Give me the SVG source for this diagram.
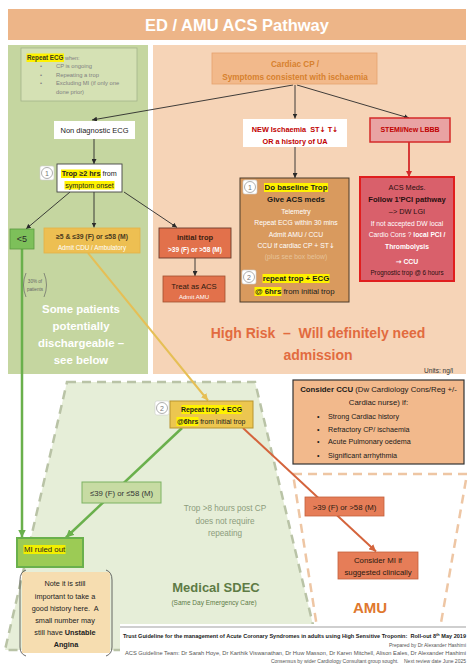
<svg xmlns="http://www.w3.org/2000/svg" width="474" height="669" viewBox="0 0 474 669">
<defs>
<style>
text{font-family:"Liberation Sans",Arial,sans-serif;}
.b{font-weight:bold}
.c{text-anchor:middle}
.e{text-anchor:end}
.hl{fill:#FFF200}
.nb{fill:#fff;stroke:#cfcfcf;stroke-width:0.6}
.nc{fill:#fff;stroke:#9a9a9a;stroke-width:0.8}
.nt{font-size:7px;fill:#777;text-anchor:middle}
.k{stroke:#2a2a2a;stroke-width:0.9;fill:none}
.wt{fill:#ffffff}
.ar{font-family:"DejaVu Sans",sans-serif}
</style>
<marker id="ak" viewBox="0 0 6 6" refX="6" refY="3" markerWidth="5" markerHeight="5" markerUnits="userSpaceOnUse" orient="auto"><path d="M0,0L6,3L0,6z" fill="#2a2a2a"/></marker>
<marker id="ar" viewBox="0 0 6 6" refX="6" refY="3" markerWidth="6" markerHeight="6" markerUnits="userSpaceOnUse" orient="auto"><path d="M0,0L6,3L0,6z" fill="#D42A2A"/></marker>
<marker id="ag" viewBox="0 0 6 6" refX="6" refY="3" markerWidth="8" markerHeight="8" markerUnits="userSpaceOnUse" orient="auto"><path d="M0,0L6,3L0,6z" fill="#6AB04C"/></marker>
<marker id="ay" viewBox="0 0 6 6" refX="6" refY="3" markerWidth="7" markerHeight="7" markerUnits="userSpaceOnUse" orient="auto"><path d="M0,0L6,3L0,6z" fill="#E6BF55"/></marker>
<marker id="ao" viewBox="0 0 6 6" refX="6" refY="3" markerWidth="7" markerHeight="7" markerUnits="userSpaceOnUse" orient="auto"><path d="M0,0L6,3L0,6z" fill="#D4643C"/></marker>
</defs>

<rect x="0" y="0" width="474" height="669" fill="#ffffff"/>

<!-- background regions -->
<g id="header">
<rect x="8" y="9" width="458" height="31" fill="#EDB588"/>
<text x="237" y="31" class="b c" font-size="16.5" fill="#ffffff">ED / AMU ACS Pathway</text>
</g>
<g id="low-risk-panel">
<rect x="8" y="45" width="140" height="329" fill="#C5D6A0"/>
<text class="b c wt" font-size="11.4"><tspan x="81" y="313">Some patients</tspan><tspan x="81" y="330">potentially</tspan><tspan x="81" y="347">dischargeable –</tspan><tspan x="81" y="364">see below</tspan></text>
</g>
<g id="high-risk-panel">
<rect x="153" y="45" width="313" height="329" fill="#F6D4B7"/>
<text class="b c" font-size="14" fill="#E26B3F"><tspan x="318" y="338">High Risk&#160; –&#160; Will definitely need</tspan><tspan x="318" y="360">admission</tspan></text>
<text x="453" y="373" class="e" font-size="6.5" fill="#333">Units: ng/l</text>
</g>
<g id="sdec-area">
<polygon points="67,382 255,382 319,650 5,650" fill="#E6EED8" stroke="#B9C3A6" stroke-width="2.5" stroke-dasharray="9,6"/>
<text x="216" y="592" class="b c" font-size="13" fill="#5E7B45">Medical SDEC</text>
<text x="214" y="604.5" class="c" font-size="6.5" fill="#5E7B45">(Same Day Emergency Care)</text>
<text class="c" font-size="8.2" fill="#8C9C7C"><tspan x="225" y="511">Trop &gt;8 hours post CP</tspan><tspan x="225" y="523.5">does not require</tspan><tspan x="225" y="536">repeating</tspan></text>
</g>
<g id="amu-area">
<polygon points="293,474 467,474 438,640 319,640" fill="#ffffff" stroke="#EEC6A4" stroke-width="2.5" stroke-dasharray="9,6"/>
<text x="370" y="613" class="b c" font-size="15" fill="#E0782E">AMU</text>
</g>

<!-- connectors -->
<g id="connectors">
<line x1="293" y1="85" x2="92" y2="120" class="k" marker-end="url(#ak)"/>
<line x1="295" y1="85" x2="295" y2="118.5" class="k" marker-end="url(#ak)"/>
<line x1="297" y1="85" x2="409" y2="118" class="k" marker-end="url(#ak)"/>
<line x1="94" y1="139" x2="94" y2="164" class="k" marker-end="url(#ak)"/>
<line x1="70" y1="192" x2="26" y2="229" class="k" marker-end="url(#ak)"/>
<line x1="94" y1="192" x2="94" y2="227.5" class="k" marker-end="url(#ak)"/>
<line x1="124" y1="192" x2="177" y2="227.5" class="k" marker-end="url(#ak)"/>
<line x1="195" y1="258" x2="195" y2="276" class="k" marker-end="url(#ak)"/>
<line x1="295" y1="147" x2="295" y2="178" class="k" marker-end="url(#ak)"/>
<line x1="409" y1="142" x2="409" y2="177" stroke="#D42A2A" stroke-width="1.8" marker-end="url(#ar)"/>
<line x1="22" y1="249" x2="22" y2="537.5" stroke="#6AB04C" stroke-width="2.5" marker-end="url(#ag)"/>
<line x1="88" y1="253" x2="208" y2="400.5" stroke="#E6BF55" stroke-width="2" marker-end="url(#ay)"/>
<line x1="182" y1="428" x2="66" y2="537.5" stroke="#6AB04C" stroke-width="2.5" marker-end="url(#ag)"/>
<line x1="243" y1="428" x2="376" y2="551.5" stroke="#D4643C" stroke-width="2" marker-end="url(#ao)"/>
</g>

<!-- nodes -->
<g id="repeat-ecg-note">
<rect x="21" y="48" width="116" height="53" fill="#D5E1B4" stroke="#A3B38A" stroke-width="0.8"/>
<rect x="26.5" y="53.5" width="37.5" height="8.5" class="hl"/>
<text x="27" y="60" font-size="6.3"><tspan class="b" fill="#3a3a1a">Repeat ECG</tspan><tspan font-size="5.5" fill="#808080"> when:</tspan></text>
<g font-size="5.8" fill="#808080">
<text x="40" y="68">•</text><text x="56" y="68">CP is ongoing</text>
<text x="40" y="76.5">•</text><text x="56" y="76.5">Repeating a trop</text>
<text x="40" y="85">•</text><text x="56" y="85">Excluding MI (if only one</text>
<text x="56" y="93.5">done prior)</text>
</g>
</g>

<g id="cardiac-cp">
<rect x="212" y="53" width="165" height="31" fill="#F2B98B" stroke="#E6A26E" stroke-width="0.8"/>
<text class="b c" font-size="8.2" fill="#D7812E"><tspan x="295" y="67">Cardiac CP /</tspan><tspan x="295" y="79.5">Symptoms consistent with ischaemia</tspan></text>
</g>

<g id="non-diagnostic-ecg">
<rect x="54" y="121" width="81" height="18" fill="#ffffff"/>
<text x="94.5" y="133" class="c" font-size="7.5" fill="#222">Non diagnostic ECG</text>
</g>

<g id="new-ischaemia">
<rect x="243" y="119" width="104" height="28" fill="#ffffff"/>
<text class="b c" font-size="7.3" fill="#C00000"><tspan x="295" y="131.5">NEW Ischaemia&#160; ST<tspan class="ar">↓</tspan> T<tspan class="ar">↓</tspan></tspan><tspan x="295" y="143.5">OR a history of UA</tspan></text>
</g>

<g id="stemi">
<rect x="370" y="118" width="80" height="24" fill="#E9A3A3" stroke="#D42A2A" stroke-width="1.5"/>
<text x="410" y="131.5" class="b c" font-size="7" fill="#C00000">STEMI/New LBBB</text>
</g>

<g id="trop-2hrs">
<rect x="57" y="164" width="65" height="28" fill="#ffffff" stroke="#444" stroke-width="0.9"/>
<rect x="61" y="169.5" width="40" height="8.5" class="hl"/>
<rect x="64.5" y="181" width="50" height="8.5" class="hl"/>
<text x="61.7" y="176" font-size="7.2" fill="#222"><tspan class="b">Trop ≥2 hrs</tspan> from</text>
<text x="89.5" y="187.5" class="c" font-size="7.2" fill="#222">symptom onset</text>
<rect x="40" y="166" width="14" height="14" rx="2" class="nb"/>
<circle cx="47" cy="173" r="5.5" class="nc"/>
<text x="47" y="175.5" class="nt">1</text>
</g>

<g id="lt5">
<rect x="10" y="229" width="24" height="20" fill="#7DC05A" stroke="#5A9A40" stroke-width="0.8"/>
<text x="22" y="242" class="c" font-size="9" fill="#2a2a2a">&lt;5</text>
</g>

<g id="ge5-le39">
<rect x="44" y="228" width="96" height="25" fill="#EDBF52" stroke="#E3B247" stroke-width="0.8"/>
<text x="92" y="239" class="b c" font-size="6.8" fill="#4a3a20">≥5 &amp; ≤39 (F) or ≤58 (M)</text>
<text x="92" y="249.5" class="c wt" font-size="6.3">Admit CDU / Ambulatory</text>
</g>

<g id="initial-trop">
<rect x="159" y="228" width="72" height="30" fill="#E2714B" stroke="#6A3A2A" stroke-width="0.9"/>
<text x="195" y="240" class="b c" font-size="7.5" fill="#3a2010">initial trop</text>
<text x="195" y="251.5" class="b c wt" font-size="6.5">&gt;39 (F) or &gt;58 (M)</text>
</g>

<g id="treat-acs">
<rect x="163" y="276" width="62" height="26" fill="#E2714B" stroke="#A0502F" stroke-width="0.8"/>
<text x="194" y="289" class="c" font-size="7.7" fill="#2a1a10">Treat as ACS</text>
<text x="194" y="298.5" class="c wt" font-size="6">Admit AMU</text>
</g>

<g id="thirty-percent">
<path d="M26,273 Q21,285 26,297" fill="none" stroke="#666" stroke-width="0.7"/>
<path d="M44,273 Q49,285 44,297" fill="none" stroke="#666" stroke-width="0.7"/>
<text class="c" font-size="4.6" fill="#666"><tspan x="35" y="283">30% of</tspan><tspan x="35" y="291">patients</tspan></text>
</g>

<g id="baseline-trop">
<rect x="240" y="178" width="109" height="124" fill="#D99A5E" stroke="#4A3A2A" stroke-width="1"/>
<rect x="264" y="183" width="64" height="9" class="hl"/>
<text x="296" y="190" class="b c" font-size="7.8" fill="#1a1a1a">Do baseline Trop</text>
<text x="296" y="201.5" class="b c" font-size="7.8" fill="#1a1a1a">Give ACS meds</text>
<g class="c wt" font-size="6.8">
<text x="296" y="213.5">Telemetry</text>
<text x="296" y="225">Repeat ECG within 30 mins</text>
<text x="296" y="236.5">Admit AMU / CCU</text>
<text x="296" y="248">CCU if cardiac CP + ST<tspan class="ar">↓</tspan></text>
</g>
<text x="296" y="259" class="c" font-size="6.8" fill="#E6C39B">(plus see box below)</text>
<rect x="262.5" y="274" width="67" height="9" class="hl"/>
<text x="296" y="281" class="b c" font-size="7.8" fill="#1a1a1a">repeat trop + ECG</text>
<rect x="254.5" y="287" width="27" height="9" class="hl"/>
<text x="255" y="294" font-size="7.8" fill="#1a1a1a"><tspan class="b">@ 6hrs</tspan> from initial trop</text>
<rect x="243" y="180" width="14" height="14" rx="2" class="nb"/>
<circle cx="250" cy="187" r="5.5" class="nc"/>
<text x="250" y="189.5" class="nt">1</text>
<rect x="242" y="270" width="14" height="14" rx="2" class="nb"/>
<circle cx="249" cy="277" r="5.5" class="nc"/>
<text x="249" y="279.5" class="nt">2</text>
</g>

<g id="acs-meds">
<rect x="360" y="177" width="94" height="104" fill="#D9606B" stroke="#E01E1E" stroke-width="2"/>
<text x="407" y="189.5" class="c" font-size="7.3" fill="#2a1010">ACS Meds.</text>
<text x="407" y="201.5" class="b c" font-size="7.6" fill="#2a1010">Follow 1'PCI pathway</text>
<text x="407" y="213.5" class="c" font-size="7.3" fill="#2a1010">–&gt; DW LGI</text>
<text x="407" y="225.5" class="c wt" font-size="6.7">If not accepted DW local</text>
<text x="407" y="237" class="c wt" font-size="6.7">Cardio Cons ? <tspan class="b">local PCI /</tspan></text>
<text x="407" y="248.5" class="b c wt" font-size="6.7">Thrombolysis</text>
<text x="407" y="263.5" class="b c wt" font-size="6.9"><tspan class="ar">→</tspan> CCU</text>
<text x="407" y="275" class="c" font-size="6.3" fill="#2a1010">Prognostic trop @ 6 hours</text>
</g>

<g id="consider-ccu">
<rect x="293" y="380" width="171" height="84" fill="#F2B98C" stroke="#333" stroke-width="1.2"/>
<text x="378.5" y="392" class="c" font-size="7.8" fill="#1a1a1a"><tspan class="b">Consider CCU</tspan> (Dw Cardiology Cons/Reg +/-</text>
<text x="378.5" y="404.5" class="c" font-size="7.8" fill="#1a1a1a">Cardiac nurse) if:</text>
<g font-size="7.2" fill="#1a1a1a">
<text x="317" y="419">•</text><text x="328" y="419">Strong Cardiac history</text>
<text x="317" y="431.5">•</text><text x="328" y="431.5">Refractory CP/ ischaemia</text>
<text x="317" y="444">•</text><text x="328" y="444">Acute Pulmonary oedema</text>
<text x="317" y="457.5">•</text><text x="328" y="457.5">Significant arrhythmia</text>
</g>
</g>

<g id="repeat-trop-sdec">
<rect x="170" y="401" width="83" height="27" fill="#ECC650" stroke="#B8942E" stroke-width="1"/>
<rect x="181.5" y="405" width="60" height="9" class="hl"/>
<text x="211.5" y="412" class="b c" font-size="6.9" fill="#1a1a1a">Repeat trop + ECG</text>
<rect x="176.5" y="417" width="22" height="9" class="hl"/>
<text x="177" y="424" font-size="6.9" fill="#1a1a1a"><tspan class="b">@6hrs</tspan> from initial trop</text>
<rect x="155" y="401" width="14" height="14" rx="2" class="nb"/>
<circle cx="162" cy="408" r="5.5" class="nc"/>
<text x="162" y="410.5" class="nt">2</text>
</g>

<g id="le39-sdec">
<rect x="82" y="482" width="79" height="21" fill="#C7DBA3" stroke="#7DB262" stroke-width="1"/>
<text x="121.5" y="495.5" class="c" font-size="7.8" fill="#333">≤39 (F) or ≤58 (M)</text>
</g>

<g id="gt39-amu">
<rect x="305" y="497" width="79" height="19" fill="#E67D58" stroke="#C4603C" stroke-width="0.8"/>
<text x="344.5" y="509.5" class="c" font-size="7.8" fill="#2a1a10">&gt;39 (F) or &gt;58 (M)</text>
</g>

<g id="consider-mi">
<rect x="338" y="552" width="80" height="27" fill="#E67D58" stroke="#C4603C" stroke-width="0.8"/>
<text class="c" font-size="7.8" fill="#2a1a10"><tspan x="378" y="562.5">Consider MI if</tspan><tspan x="378" y="575">suggested clinically</tspan></text>
</g>

<g id="mi-ruled-out">
<rect x="17" y="538" width="66" height="29" fill="#9CCB55" stroke="#6AB04C" stroke-width="2"/>
<rect x="23.5" y="545" width="42" height="9" fill="#F2F000"/>
<text x="24" y="552" font-size="7.8" fill="#222">MI ruled out</text>
</g>

<g id="note">
<rect x="22" y="572" width="88" height="81" fill="#F6DDB0"/>
<path d="M26,570 Q20,572 20,580 L20,647 Q20,654 26,656" fill="none" stroke="#444" stroke-width="0.8"/>
<path d="M106,570 Q112,572 112,580 L112,647 Q112,654 106,656" fill="none" stroke="#444" stroke-width="0.8"/>
<text class="c" font-size="7.3" fill="#222">
<tspan x="66" y="586">Note it is still</tspan>
<tspan x="66" y="598.5">important to take a</tspan>
<tspan x="66" y="610.5">good history here.&#160; A</tspan>
<tspan x="66" y="623">small number may</tspan>
<tspan x="66" y="635">still have <tspan class="b">Unstable</tspan></tspan>
<tspan x="66" y="647" class="b">Angina</tspan>
</text>
</g>

<g id="footer">
<rect x="120" y="624" width="350" height="45" fill="#ffffff"/>
<line x1="120" y1="627" x2="466" y2="627" stroke="#A0A0A0" stroke-width="1.2"/>
<text x="123" y="638" class="b" font-size="5" fill="#1a1a1a" textLength="343" lengthAdjust="spacingAndGlyphs">Trust Guideline for the management of Acute Coronary Syndromes in adults using High Sensitive Troponin:&#160; Roll-out 8<tspan font-size="3.5" baseline-shift="super">th</tspan> May 2019</text>
<text x="466" y="646.5" class="e" font-size="5" fill="#555">Prepared by Dr Alexander Hashimi</text>
<text x="125" y="654.5" font-size="5" fill="#555" textLength="341" lengthAdjust="spacingAndGlyphs">ACS Guideline Team: Dr Sarah Hoye, Dr Karthik Viswanathan, Dr Huw Masson, Dr Karen Mitchell, Alison Eales, Dr Alexander Hashimi</text>
<text x="466" y="662.5" class="e" font-size="5" fill="#555">Consensus by wider Cardiology Consultant group sought.&#160;&#160;&#160; Next review date June 2025</text>
</g>
</svg>
